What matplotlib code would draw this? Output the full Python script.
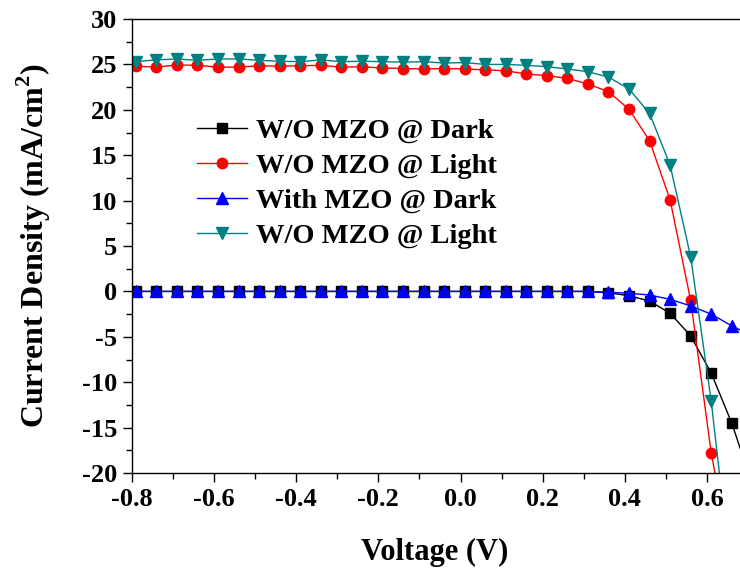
import numpy as np
from matplotlib import pyplot as plt
from matplotlib.ticker import MultipleLocator

# voltage steps (V), one marker every 0.05 V
volt = np.round(np.arange(-0.79, 0.72, 0.05), 2)

# current density (mA/cm2)
wo_dark = [0, 0, 0, 0, 0, 0, 0, 0, 0, 0, 0, 0, 0, 0, 0, 0, 0, 0, 0, 0, 0, 0, 0,
           -0.15, -0.47, -1.06, -2.41, -4.9, -9.0, -14.5, -21.3]
wo_light = [24.8, 24.7, 24.95, 24.9, 24.7, 24.7, 24.85, 24.8, 24.85, 24.9,
            24.7, 24.75, 24.6, 24.55, 24.5, 24.55, 24.5, 24.4, 24.3, 23.95,
            23.76, 23.47, 22.84, 22.0, 20.05, 16.6, 10.07, -1.0, -17.8, -30.0]
with_dark = [0, 0, 0, 0, 0, 0, 0, 0, 0, 0, 0, 0, 0, 0, 0, 0, 0, 0, 0, 0, 0, 0, 0,
             -0.1, -0.2, -0.4, -0.87, -1.6, -2.5, -3.8, -4.9]
with_light = [25.3, 25.5, 25.6, 25.45, 25.6, 25.6, 25.45, 25.35, 25.3, 25.5,
              25.3, 25.35, 25.3, 25.25, 25.3, 25.15, 25.2, 25.0, 25.0, 24.9,
              24.75, 24.5, 24.2, 23.6, 22.3, 19.6, 13.9, 3.8, -12.1, -32.0]

labels = ["W/O MZO @ Dark", "W/O MZO @ Light", "With MZO @ Dark", "W/O MZO @ Light"]

plt.rcParams['font.family'] = 'Liberation Serif'
plt.rcParams['font.weight'] = 'bold'
plt.rcParams['axes.unicode_minus'] = False
plt.rcParams['mathtext.fontset'] = 'custom'
plt.rcParams['mathtext.bf'] = 'Liberation Serif:bold'

fig = plt.figure(figsize=(7.4, 5.71), dpi=100)
ax = fig.add_axes([0.178, 0.1716, 0.822, 0.7951])

ax.plot(volt[:len(wo_dark)], wo_dark, color='black', marker='s', ms=6.5, lw=1.0, label=labels[0])
ax.plot(volt[:len(wo_light)], wo_light, color='red', marker='o', ms=7.5, lw=1.0, label=labels[1])
ax.plot(volt[:len(with_dark)], with_dark, color='blue', marker='^', ms=8.5, lw=1.0, label=labels[2])
ax.plot(volt[:len(with_light)], with_light, color='#008080', marker='v', ms=8.5, lw=1.0, label=labels[3])

ax.set_xlim(-0.8, 0.68)
ax.set_ylim(-20, 30)
ax.xaxis.set_major_locator(MultipleLocator(0.2))
ax.xaxis.set_minor_locator(MultipleLocator(0.1))
ax.yaxis.set_major_locator(MultipleLocator(5))
ax.yaxis.set_minor_locator(MultipleLocator(2.5))
ax.tick_params(which='major', direction='out', length=6.5, width=1, labelsize=19, pad=4)
ax.tick_params(which='minor', direction='out', length=4, width=1)
ax.spines['right'].set_visible(False)
for s in ['left', 'bottom', 'top']:
    ax.spines[s].set_linewidth(1.0)

ax.set_xlabel("Voltage (V)", fontsize=22, fontweight='bold', va='center')
ax.set_ylabel("Current Density (mA/cm$^\\mathbf{2}$)", fontsize=23, fontweight='bold', va='center')
ax.xaxis.set_label_coords(0.498, -0.174)
ax.yaxis.set_label_coords(-0.161, 0.502)

ax.legend(loc='upper left', bbox_to_anchor=(0.266, 0.794), bbox_transform=fig.transFigure,
          frameon=False, fontsize=20.5, handlelength=1.75, handletextpad=0.32,
          labelspacing=0.32, borderpad=0, borderaxespad=0)

fig.savefig("out.png", dpi=100)
